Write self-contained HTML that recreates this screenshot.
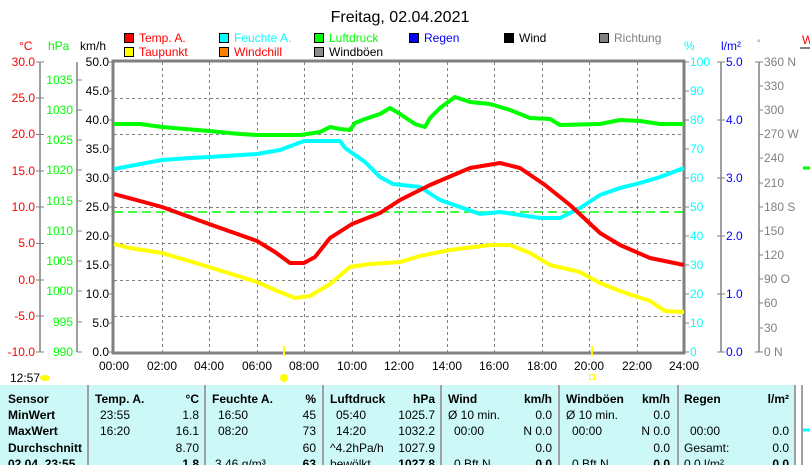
<!DOCTYPE html>
<html><head><meta charset="utf-8"><style>
body{margin:0;background:#fff;width:810px;height:465px;overflow:hidden}
text{font-family:"Liberation Sans",sans-serif;font-size:12px}
.b{font-weight:bold}
</style></head><body>
<svg width="810" height="465" xmlns="http://www.w3.org/2000/svg">
<text x="400" y="22" text-anchor="middle" style="font-size:16px">Freitag, 02.04.2021</text>
<g stroke="#000" stroke-width="1">
<rect x="124.5" y="33.5" width="9" height="9" fill="#f00"/><rect x="219.5" y="33.5" width="9" height="9" fill="#0ff"/>
<rect x="314.5" y="33.5" width="9" height="9" fill="#0f0"/><rect x="409.5" y="33.5" width="9" height="9" fill="#00f"/>
<rect x="504.5" y="33.5" width="9" height="9" fill="#000"/><rect x="599.5" y="33.5" width="9" height="9" fill="#808080"/>
<rect x="124.5" y="47.5" width="9" height="9" fill="#ff0"/><rect x="219.5" y="47.5" width="9" height="9" fill="#ff8000"/>
<rect x="314.5" y="47.5" width="9" height="9" fill="#908890"/>
</g>
<text x="139" y="42" fill="#f00">Temp. A.</text><text x="234" y="42" fill="#0ff">Feuchte A.</text>
<text x="329" y="42" fill="#0f0">Luftdruck</text><text x="424" y="42" fill="#00f">Regen</text>
<text x="519" y="42">Wind</text><text x="614" y="42" fill="#808080">Richtung</text>
<text x="139" y="56" fill="#f00">Taupunkt</text><text x="234" y="56" fill="#f00">Windchill</text>
<text x="329" y="56">Windböen</text>
<text x="19" y="50" fill="#f00">°C</text><text x="48" y="50" fill="#0f0">hPa</text><text x="80" y="50">km/h</text>
<text x="684" y="50" fill="#0ff">%</text><text x="721" y="50" fill="#00f">l/m²</text><text x="757" y="46" fill="#808080" style="font-size:9px">°</text>
<text x="802" y="44" fill="#f00">W</text><line x1="800" y1="48" x2="810" y2="48" stroke="#808080" stroke-width="2"/>
<g stroke="#808080" stroke-dasharray="3,3" stroke-width="1">
<line x1="114" x2="684" y1="98.5" y2="98.5"/><line x1="114" x2="684" y1="134.5" y2="134.5"/><line x1="114" x2="684" y1="171.5" y2="171.5"/><line x1="114" x2="684" y1="207.5" y2="207.5"/><line x1="114" x2="684" y1="243.5" y2="243.5"/><line x1="114" x2="684" y1="280.5" y2="280.5"/><line x1="114" x2="684" y1="316.5" y2="316.5"/>
<line y1="62" y2="352" x1="162.5" x2="162.5"/><line y1="62" y2="352" x1="209.5" x2="209.5"/><line y1="62" y2="352" x1="257.5" x2="257.5"/><line y1="62" y2="352" x1="304.5" x2="304.5"/><line y1="62" y2="352" x1="352.5" x2="352.5"/><line y1="62" y2="352" x1="399.5" x2="399.5"/><line y1="62" y2="352" x1="447.5" x2="447.5"/><line y1="62" y2="352" x1="494.5" x2="494.5"/><line y1="62" y2="352" x1="542.5" x2="542.5"/><line y1="62" y2="352" x1="589.5" x2="589.5"/><line y1="62" y2="352" x1="637.5" x2="637.5"/>
</g>
<rect x="113" y="61" width="571" height="292" fill="none" stroke="#808080" stroke-width="3"/>
<line x1="114" x2="684" y1="212" y2="212" stroke="#0f0" stroke-dasharray="9,5" stroke-width="1.5"/>
<g fill="none" stroke-width="4" stroke-linejoin="round">
<polyline stroke="#0f0" points="114,124 140,124 162,127 209,131 240,134 257,135 300,135 320,132 330,127 340,129 350,130 355,123 365,119 380,114 390,108 400,114 415,124 425,127 430,118 440,108 455,97 470,102 490,104 510,110 530,118 550,119 560,125 600,124 620,120 640,121 660,124 684,124"/>
<polyline stroke="#0ff" points="114,169 130,166 162,160 190,158 209,157 257,154 280,150 304,141 340,141 345,148 365,162 380,177 393,184 420,187 440,200 460,207 480,214 500,212 520,215 540,218 560,218 580,208 600,195 620,188 640,183 660,177 684,168"/>
<polyline stroke="#f00" points="114,194 140,201 162,207 209,224 257,241 275,252 290,263 304,263 315,257 330,238 352,224 380,213 400,200 430,185 470,168 500,163 520,168 545,185 570,205 600,233 620,245 650,258 684,265"/>
<polyline stroke="#ff0" points="114,244 130,248 162,253 209,267 257,282 275,290 295,298 310,296 330,284 350,267 370,264 400,262 420,256 450,250 490,245 510,245 530,253 550,265 580,272 600,283 620,291 650,301 665,311 684,312"/>
</g>
<g stroke="#808080" stroke-width="1.5" fill="none">
<line x1="40" y1="62" x2="40" y2="352"/><line x1="77" y1="62" x2="77" y2="352"/>
<line x1="721" y1="62" x2="721" y2="352"/><line x1="759" y1="62" x2="759" y2="352"/>
</g>
<g stroke="#808080" stroke-width="1">
<path d="M36 62h8M36 98h8M36 134.5h8M36 171h8M36 207h8M36 243.5h8M36 280h8M36 316h8M36 352h8"/>
<path d="M77 80h5M77 110h5M77 140h5M77 170h5M77 201h5M77 231h5M77 261h5M77 291h5M77 322h5M77 352h5"/>
<path d="M109 62h5M109 91h5M109 120h5M109 149h5M109 178h5M109 207h5M109 236h5M109 265h5M109 294h5M109 323h5M109 352h5"/>
<path d="M684 62h5M684 91h5M684 120h5M684 149h5M684 178h5M684 207h5M684 236h5M684 265h5M684 294h5M684 323h5M684 352h5"/>
<path d="M717 62h8M717 120h8M717 178h8M717 236h8M717 294h8M717 352h8"/>
<path d="M755 62h8M759 86h4M759 110h4M759 134.5h4M759 158h4M759 183h4M759 207h4M759 231h4M759 255h4M759 279h4M759 303h4M759 328h4M755 352h8"/>
</g>
<g fill="#f00" text-anchor="end">
<text x="35" y="66">30.0</text><text x="35" y="102">25.0</text><text x="35" y="138">20.0</text><text x="35" y="175">15.0</text><text x="35" y="211">10.0</text><text x="35" y="247">5.0</text><text x="35" y="284">0.0</text><text x="35" y="320">-5.0</text><text x="35" y="356">-10.0</text>
</g>
<g fill="#0f0" text-anchor="end">
<text x="73" y="84">1035</text><text x="73" y="114">1030</text><text x="73" y="144">1025</text><text x="73" y="174">1020</text><text x="73" y="205">1015</text><text x="73" y="235">1010</text><text x="73" y="265">1005</text><text x="73" y="295">1000</text><text x="73" y="326">995</text><text x="73" y="356">990</text>
</g>
<g text-anchor="end">
<text x="109" y="66">50.0</text><text x="109" y="95">45.0</text><text x="109" y="124">40.0</text><text x="109" y="153">35.0</text><text x="109" y="182">30.0</text><text x="109" y="211">25.0</text><text x="109" y="240">20.0</text><text x="109" y="269">15.0</text><text x="109" y="298">10.0</text><text x="109" y="327">5.0</text><text x="109" y="356">0.0</text>
</g>
<g fill="#0ff">
<text x="690" y="66">100</text><text x="690" y="95">90</text><text x="690" y="124">80</text><text x="690" y="153">70</text><text x="690" y="182">60</text><text x="690" y="211">50</text><text x="690" y="240">40</text><text x="690" y="269">30</text><text x="690" y="298">20</text><text x="690" y="327">10</text><text x="690" y="356">0</text>
</g>
<g fill="#00f">
<text x="726" y="66">5.0</text><text x="726" y="124">4.0</text><text x="726" y="182">3.0</text><text x="726" y="240">2.0</text><text x="726" y="298">1.0</text><text x="726" y="356">0.0</text>
</g>
<g fill="#808080">
<text x="764" y="66">360 N</text><text x="764" y="90">330</text><text x="764" y="114">300</text><text x="764" y="138">270 W</text><text x="764" y="162">240</text><text x="764" y="187">210</text><text x="764" y="211">180 S</text><text x="764" y="235">150</text><text x="764" y="259">120</text><text x="764" y="283">90  O</text><text x="764" y="307">60</text><text x="764" y="332">30</text><text x="764" y="356">0   N</text>
</g>
<line x1="803" y1="168" x2="810" y2="168" stroke="#0f0" stroke-width="3"/>
<g text-anchor="middle">
<text x="114" y="370">00:00</text><text x="162" y="370">02:00</text><text x="209" y="370">04:00</text><text x="257" y="370">06:00</text><text x="304" y="370">08:00</text><text x="352" y="370">10:00</text><text x="399" y="370">12:00</text><text x="447" y="370">14:00</text><text x="494" y="370">16:00</text><text x="542" y="370">18:00</text><text x="589" y="370">20:00</text><text x="637" y="370">22:00</text><text x="684" y="370">24:00</text>
</g>
<circle cx="284" cy="378" r="4" fill="#ff0"/><line x1="284" y1="346" x2="284" y2="356" stroke="#ff0" stroke-width="2"/>
<rect x="589.5" y="374.5" width="5" height="5" fill="none" stroke="#ff0"/><line x1="592" y1="346" x2="592" y2="356" stroke="#ff0" stroke-width="2"/>
<text x="10" y="382">12:57</text><ellipse cx="45" cy="378" rx="5" ry="3" fill="#ff0"/>
<rect x="0" y="385" width="795" height="80" fill="#ccf8f8"/>
<g stroke="#a0a0a0" stroke-width="2"><line x1="88" y1="385" x2="88" y2="465"/><line x1="205" y1="385" x2="205" y2="465"/><line x1="323" y1="385" x2="323" y2="465"/><line x1="441" y1="385" x2="441" y2="465"/><line x1="559" y1="385" x2="559" y2="465"/><line x1="678" y1="385" x2="678" y2="465"/><line x1="795" y1="385" x2="795" y2="465"/></g>
<g class="b">
<text x="8" y="403" class="b">Sensor</text><text x="8" y="419" class="b">MinWert</text><text x="8" y="435" class="b">MaxWert</text><text x="8" y="452" class="b">Durchschnitt</text><text x="8" y="468" class="b">02.04. 23:55</text>
<text x="95" y="403" class="b">Temp. A.</text><text x="199" y="403" class="b" text-anchor="end">°C</text>
<text x="212" y="403" class="b">Feuchte A.</text><text x="316" y="403" class="b" text-anchor="end">%</text>
<text x="330" y="403" class="b">Luftdruck</text><text x="435" y="403" class="b" text-anchor="end">hPa</text>
<text x="448" y="403" class="b">Wind</text><text x="552" y="403" class="b" text-anchor="end">km/h</text>
<text x="566" y="403" class="b">Windböen</text><text x="670" y="403" class="b" text-anchor="end">km/h</text>
<text x="684" y="403" class="b">Regen</text><text x="789" y="403" class="b" text-anchor="end">l/m²</text>
</g>
<text x="100" y="419">23:55</text><text x="199" y="419" text-anchor="end">1.8</text>
<text x="100" y="435">16:20</text><text x="199" y="435" text-anchor="end">16.1</text>
<text x="199" y="452" text-anchor="end">8.70</text><text x="199" y="468" text-anchor="end" class="b">1.8</text>
<text x="218" y="419">16:50</text><text x="316" y="419" text-anchor="end">45</text>
<text x="218" y="435">08:20</text><text x="316" y="435" text-anchor="end">73</text>
<text x="316" y="452" text-anchor="end">60</text><text x="215" y="468">3.46 g/m³</text><text x="316" y="468" text-anchor="end" class="b">63</text>
<text x="336" y="419">05:40</text><text x="435" y="419" text-anchor="end">1025.7</text>
<text x="336" y="435">14:20</text><text x="435" y="435" text-anchor="end">1032.2</text>
<text x="330" y="452">^4.2hPa/h</text><text x="435" y="452" text-anchor="end">1027.9</text>
<text x="330" y="468">bewölkt</text><text x="435" y="468" text-anchor="end" class="b">1027.8</text>
<text x="448" y="419">Ø 10 min.</text><text x="552" y="419" text-anchor="end">0.0</text>
<text x="454" y="435">00:00</text><text x="552" y="435" text-anchor="end">N 0.0</text>
<text x="552" y="452" text-anchor="end">0.0</text><text x="454" y="468">0 Bft N</text><text x="552" y="468" text-anchor="end" class="b">0.0</text>
<text x="566" y="419">Ø 10 min.</text><text x="670" y="419" text-anchor="end">0.0</text>
<text x="572" y="435">00:00</text><text x="670" y="435" text-anchor="end">N 0.0</text>
<text x="670" y="452" text-anchor="end">0.0</text><text x="572" y="468">0 Bft N</text><text x="670" y="468" text-anchor="end" class="b">0.0</text>
<text x="690" y="435">00:00</text><text x="789" y="435" text-anchor="end">0.0</text>
<text x="684" y="452">Gesamt:</text><text x="789" y="452" text-anchor="end">0.0</text>
<text x="684" y="468">0.0 l/m²</text><text x="789" y="468" text-anchor="end" class="b">0.0</text>
<line x1="802" y1="385" x2="802" y2="465" stroke="#a0a0a0" stroke-width="2"/>
<line x1="803" y1="430" x2="810" y2="430" stroke="#0ff" stroke-width="3"/>
</svg>
</body></html>
